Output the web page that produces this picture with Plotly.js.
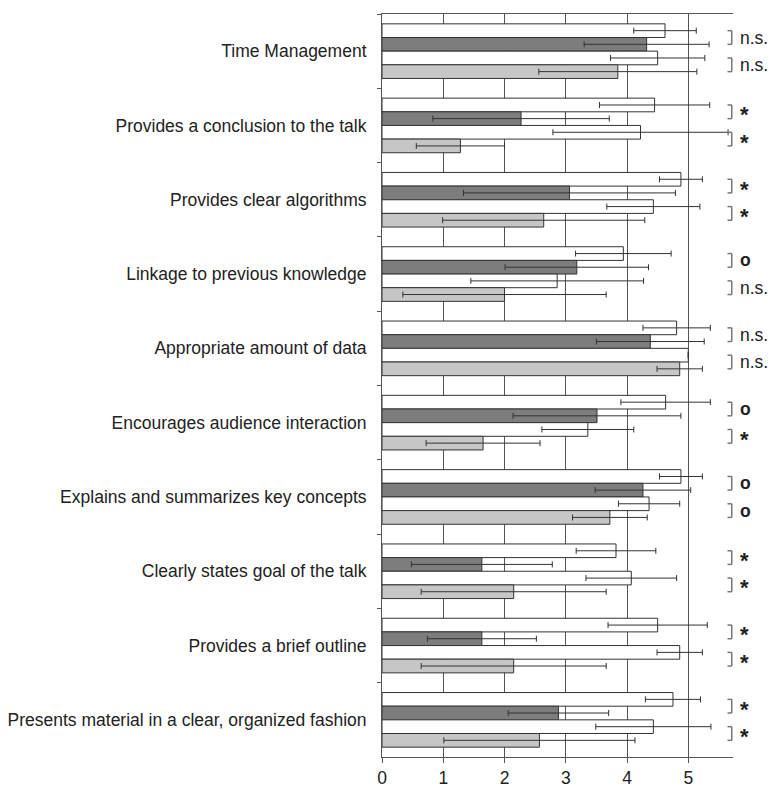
<!DOCTYPE html>
<html>
<head>
<meta charset="utf-8">
<script src="https://cdn.plot.ly/plotly-3.0.1.min.js"></script>
<style>html,body{margin:0;padding:0;background:#fff;}#chart{width:772px;height:791px;}</style>
</head>
<body>
<div id="chart"></div>
<script>
var categories = [
  "Time Management",
  "Provides a conclusion to the talk",
  "Provides clear algorithms",
  "Linkage to previous knowledge",
  "Appropriate amount of data",
  "Encourages audience interaction",
  "Explains and summarizes key concepts",
  "Clearly states goal of the talk",
  "Provides a brief outline",
  "Presents material in a clear, organized fashion"
];
var seriesA = [4.62, 4.45, 4.88, 3.94, 4.81, 4.63, 4.88, 3.82, 4.50, 4.75];
var errA    = [0.51, 0.90, 0.35, 0.78, 0.55, 0.73, 0.35, 0.65, 0.81, 0.45];
var seriesB = [4.32, 2.27, 3.06, 3.18, 4.38, 3.51, 4.26, 1.63, 1.63, 2.88];
var errB    = [1.02, 1.44, 1.73, 1.17, 0.88, 1.37, 0.78, 1.15, 0.89, 0.82];
var seriesC = [4.50, 4.22, 4.43, 2.86, 5.00, 3.36, 4.36, 4.07, 4.86, 4.43];
var errC    = [0.77, 1.43, 0.76, 1.41, 0.00, 0.75, 0.50, 0.74, 0.37, 0.94];
var seriesD = [3.85, 1.28, 2.64, 2.00, 4.86, 1.65, 3.72, 2.15, 2.15, 2.57];
var errD    = [1.29, 0.72, 1.65, 1.66, 0.37, 0.93, 0.61, 1.51, 1.51, 1.56];
var sigAB = ["n.s.", "*", "*", "o", "n.s.", "o", "o", "*", "*", "*"];
var sigCD = ["n.s.", "*", "*", "n.s.", "n.s.", "*", "o", "*", "*", "*"];
var xTicks = [0, 1, 2, 3, 4, 5];

var fills = ["#ffffff", "#7d7d7d", "#ffffff", "#c6c6c6"];
var vals = [seriesA, seriesB, seriesC, seriesD];
var errs = [errA, errB, errC, errD];
var traces = vals.map(function (v, k) {
  return {
    type: "bar", orientation: "h", x: v, y: categories,
    marker: {color: fills[k], line: {color: "#333", width: 1}},
    error_x: {type: "data", array: errs[k], visible: true, color: "#333", thickness: 1, width: 3},
    hoverinfo: "skip", showlegend: false
  };
});

var bargap = 0.265;
var w = (1 - bargap) / 4;
var shapes = [], annotations = [];
var bx1 = 5.64, bx2 = 5.71;
function bracket(yTop, yBot) {
  var ln = {color: "#777", width: 1.5};
  shapes.push({type: "line", xref: "x", yref: "y", x0: bx1, x1: bx2, y0: yTop, y1: yTop, line: ln});
  shapes.push({type: "line", xref: "x", yref: "y", x0: bx2, x1: bx2, y0: yTop, y1: yBot, line: ln});
  shapes.push({type: "line", xref: "x", yref: "y", x0: bx1, x1: bx2, y0: yBot, y1: yBot, line: ln});
}
function label(txt, y) {
  var isStar = txt === "*", isO = txt === "o";
  annotations.push({
    xref: "paper", yref: "y", x: 1.015, y: y, xanchor: "left", yanchor: "middle",
    text: isStar || isO ? "<b>" + txt + "</b>" : txt, showarrow: false,
    font: {family: "Liberation Sans, Arial, sans-serif", size: isStar ? 22 : 17.5, color: "#222"},
    yshift: isStar ? -3 : 0
  });
}
for (var i = 0; i < categories.length; i++) {
  bracket(i - 1.5 * w, i - 0.5 * w);
  label(sigAB[i], i - w);
  bracket(i + 0.5 * w, i + 1.5 * w);
  label(sigCD[i], i + w);
}

var layout = {
  width: 772, height: 791,
  margin: {l: 382, r: 39, t: 14, b: 34},
  paper_bgcolor: "#fff", plot_bgcolor: "#fff",
  barmode: "group", bargap: bargap, bargroupgap: 0,
  font: {family: "Liberation Sans, Arial, sans-serif", size: 17.5, color: "#222"},
  xaxis: {
    range: [0, 5.73], tickvals: xTicks, ticktext: xTicks.map(String),
    showgrid: true, gridcolor: "#555", gridwidth: 1, zeroline: false,
    showline: true, linecolor: "#555", linewidth: 1, mirror: true,
    ticks: "outside", ticklen: 5, tickcolor: "#555",
    tickfont: {size: 17.5}, fixedrange: true
  },
  yaxis: {
    type: "category", autorange: "reversed",
    showgrid: false, zeroline: false,
    showline: true, linecolor: "#555", linewidth: 1,
    ticks: "outside", ticklen: 4, tickcolor: "#555", tickson: "boundaries",
    ticklabelstandoff: 11,
    tickfont: {size: 17.5}, fixedrange: true
  },
  shapes: shapes,
  annotations: annotations
};
Plotly.newPlot("chart", traces, layout, {displayModeBar: false, staticPlot: true});
</script>
</body>
</html>
